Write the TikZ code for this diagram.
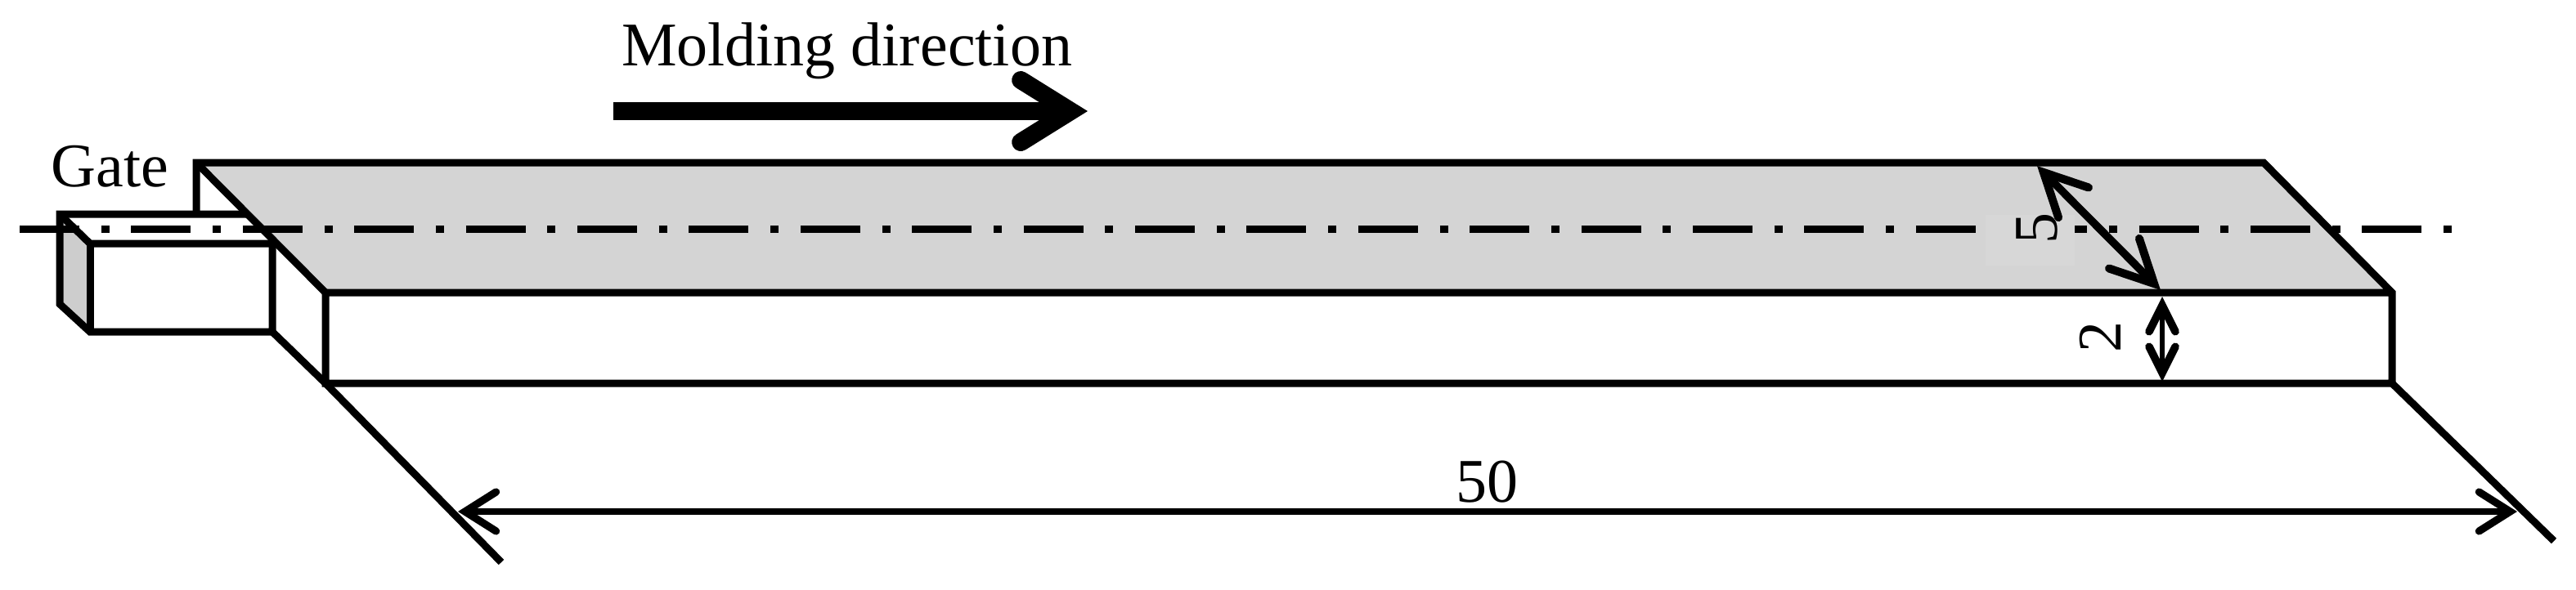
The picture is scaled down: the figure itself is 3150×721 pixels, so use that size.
\documentclass[tikz,border=0pt]{standalone}
\usepackage{fontspec}
\setmainfont{Liberation Serif}
\usetikzlibrary{arrows.meta}
\definecolor{topgray}{HTML}{D4D4D4}
\definecolor{sidegray}{HTML}{CDCDCD}
\definecolor{patchgray}{HTML}{D7D7D7}
\tikzset{
  x=0.25pt,y=-0.25pt,
  edge/.style={draw=black,line width=2.25pt,line join=miter,line cap=butt},
  dimline/.style={draw=black,line width=2.1pt,line cap=butt},
  dimtip/.style={{Straight Barb[length=9.5pt,width=12pt,line width=2.3pt,line cap=round,line join=miter]}-{Straight Barb[length=9.5pt,width=12pt,line width=2.3pt,line cap=round,line join=miter]}},
  widthtip/.style={{Straight Barb[length=13pt,width=13pt,line width=2.5pt,line cap=round,line join=miter]}-{Straight Barb[length=13pt,width=13pt,line width=2.5pt,line cap=round,line join=miter]}},
  smalltip/.style={{Straight Barb[length=8pt,width=8pt,line width=2.4pt,line cap=round,line join=miter]}-{Straight Barb[length=8pt,width=8pt,line width=2.4pt,line cap=round,line join=miter]}},
  label/.style={inner sep=0pt,outer sep=0pt,font=\fontsize{19pt}{22pt}\selectfont,text=black},
  centre/.style={draw=black,line width=2.25pt,dash pattern=on 18.25pt off 6.675pt on 2.5pt off 6.675pt},
}
\begin{document}
\begin{tikzpicture}
\useasboundingbox (0,0) rectangle (3150,721);
\fill[white] (0,0) rectangle (3150,721);
% coordinates
\coordinate (pTL) at (240,199);
\coordinate (pTR) at (2768,199);
\coordinate (pFL) at (398,358);
\coordinate (pFR) at (2925,358);
\coordinate (pBL) at (398,469);
\coordinate (pBR) at (2925,469);
\coordinate (gBackTL) at (73,262);
\coordinate (gBackBL) at (73,372);
\coordinate (gFrontTL) at (110,298);
\coordinate (gFrontBL) at (110,406);
\coordinate (gFrontBR) at (333,406);
\coordinate (gFrontTR) at (333,298);
\coordinate (gMeetTop) at (303,262);
\coordinate (gMeetFront) at (338,298);
\coordinate (pTLd) at (240,262);
\coordinate (extL) at (613,688);
\coordinate (extR) at (3123,662);
\coordinate (clA) at (24,280);
\coordinate (clB) at (2998,280);
% faces
\fill[topgray] (pTL) -- (pTR) -- (pFR) -- (pFL) -- cycle;
\fill[sidegray] (gBackTL) -- (gFrontTL) -- (gFrontBL) -- (gBackBL) -- cycle;
% centre line
\draw[centre] (clA) -- (clB);
\fill[patchgray] (2428,263) rectangle (2537,325);
% outlines
\draw[edge] (pTLd) -- (pTL) -- (pTR) -- (pFR) -- (pBR) -- (pBL) -- (pFL) -- (pFR);
\draw[edge] (pTL) -- (pFL);
\draw[edge] (gMeetTop) -- (gBackTL) -- (gBackBL) -- (gFrontBL) -- (gFrontBR) -- (gFrontTR);
\draw[edge] (gBackTL) -- (gFrontTL) -- (gMeetFront);
\draw[edge] (gFrontTL) -- (gFrontBL);
\draw[edge] (gFrontBR) -- (pBL) -- (extL);
\draw[edge] (pBR) -- (extR);
% dimensions
\coordinate (a50L) at (560,626);
\coordinate (a50R) at (3078,626);
\draw[dimline,dimtip] (a50L) -- (a50R);
\coordinate (a5T) at (2491,203);
\coordinate (a5B) at (2642,355);
\draw[dimline,line width=2.4pt,widthtip] (a5T) -- (a5B);
\coordinate (a2T) at (2644,363);
\coordinate (a2B) at (2644,467);
\draw[dimline,line width=1.7pt,smalltip] (a2T) -- (a2B);
% molding arrow
\coordinate (mA) at (750,136);
\coordinate (mB) at (1330,136);
\draw[draw=black,line width=5.5pt,-{Straight Barb[length=15.25pt,width=19pt,line cap=round,line join=miter]}] (mA) -- (mB);
% labels
\node[label,anchor=base west] (molding) at (760,80) {Molding direction};
\node[label,anchor=base west] (gate) at (63,228) {Gate};
\node[label] (fifty) at (1818,590) {50};
\node[label,rotate=90] (five) at (2491,279) {5};
\node[label,rotate=90] (two) at (2568,412) {2};
\end{tikzpicture}
\end{document}
